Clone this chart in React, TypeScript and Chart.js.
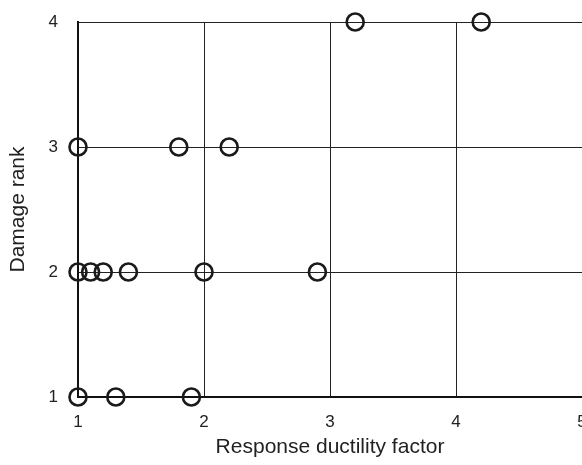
import React, { useEffect, useRef } from "react";
import { Chart, registerables } from "chart.js";

Chart.register(...registerables);

const xValues = [3.2, 4.2, 1.0, 1.8, 2.2, 1.0, 1.1, 1.2, 1.4, 2.0, 2.9, 1.0, 1.3, 1.9];
const yValues = [4, 4, 3, 3, 3, 2, 2, 2, 2, 2, 2, 1, 1, 1];
const xTicks = [1, 2, 3, 4, 5];
const yTicks = [1, 2, 3, 4];
const xTitle = "Response ductility factor";
const yTitle = "Damage rank";

export default function App() {
  const ref = useRef<HTMLCanvasElement | null>(null);
  useEffect(() => {
    if (!ref.current) return;
    const font = "'Liberation Sans', Arial, sans-serif";
    const chart = new Chart(ref.current, {
      type: "scatter",
      data: {
        datasets: [
          {
            data: xValues.map((x, i) => ({ x, y: yValues[i] })),
            pointRadius: 8.5,
            pointHoverRadius: 8.5,
            pointBorderWidth: 2.6,
            pointBorderColor: "#1a1a1a",
            pointBackgroundColor: "rgba(0,0,0,0)",
            clip: false as any,
          },
        ],
      },
      options: {
        animation: false,
        responsive: false,
        devicePixelRatio: 1,
        layout: { padding: { top: 22, right: 18, left: 0, bottom: 0 } },
        plugins: { legend: { display: false }, tooltip: { enabled: false } },
        scales: {
          x: {
            type: "linear",
            min: 1,
            max: 5,
            afterBuildTicks: (s: any) => {
              s.ticks = xTicks.map((v) => ({ value: v }));
            },
            afterFit: (s: any) => {
              s.height = 68;
              s.paddingLeft = 0;
              s.paddingRight = 0;
            },
            grid: { color: "#222", lineWidth: 1, drawTicks: false },
            border: { color: "#111", width: 2 },
            ticks: { color: "#222", font: { family: font, size: 17 }, padding: 15, maxRotation: 0 },
            title: {
              display: true,
              text: xTitle,
              color: "#222",
              font: { family: font, size: 21 },
              padding: { top: 0, bottom: 5 },
            },
          },
          y: {
            type: "linear",
            min: 1,
            max: 4,
            afterBuildTicks: (s: any) => {
              s.ticks = yTicks.map((v) => ({ value: v }));
            },
            afterFit: (s: any) => {
              s.width = 78;
              s.paddingTop = 0;
              s.paddingBottom = 0;
            },
            grid: { color: "#222", lineWidth: 1, drawTicks: false },
            border: { color: "#111", width: 2 },
            ticks: { color: "#222", font: { family: font, size: 17 }, padding: 20 },
            title: {
              display: true,
              text: yTitle,
              color: "#222",
              font: { family: font, size: 21 },
              padding: { top: 6, bottom: 0 },
            },
          },
        },
      },
    });
    return () => chart.destroy();
  }, []);
  return (
    <div style={{ position: "fixed", left: 0, top: 0, width: 582, height: 465, overflow: "hidden", background: "#fff" }}>
      <canvas ref={ref} width={600} height={465} style={{ width: 600, height: 465, display: "block" }} />
    </div>
  );
}
